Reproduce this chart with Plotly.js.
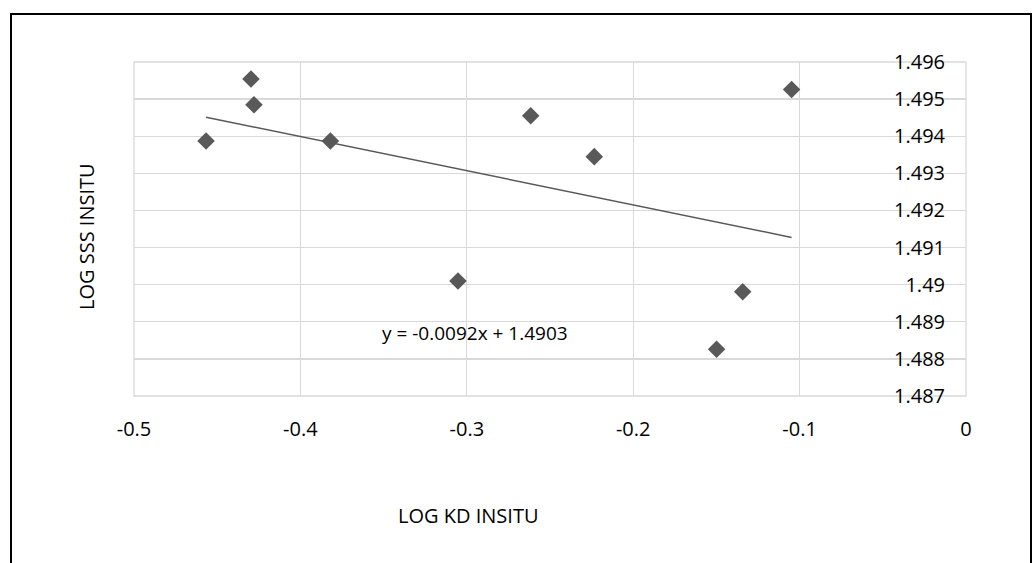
<!DOCTYPE html>
<html>
<head>
<meta charset="utf-8">
<script src="https://cdn.plot.ly/plotly-3.0.1.min.js"></script>
<style>
  html, body { margin: 0; padding: 0; background: #ffffff; }
  #chart { width: 1035px; height: 563px; }
</style>
</head>
<body>
<div id="chart"></div>
<script>
// Data
var logKd  = [-0.4567, -0.4297, -0.4279, -0.3820, -0.3053, -0.2616, -0.2234, -0.1048, -0.1342, -0.1499];
var logSss = [1.49387, 1.49554, 1.49485, 1.49387, 1.49010, 1.49455, 1.49345, 1.49526, 1.48981, 1.48826];

var xTickVals = [-0.5, -0.4, -0.3, -0.2, -0.1, 0];
var xTickText = ['-0.5', '-0.4', '-0.3', '-0.2', '-0.1', '0'];
var yTickVals = [1.487, 1.488, 1.489, 1.49, 1.491, 1.492, 1.493, 1.494, 1.495, 1.496];
var yTickText = ['1.487', '1.488', '1.489', '1.49', '1.491', '1.492', '1.493', '1.494', '1.495', '1.496'];

var xTitle = 'LOG KD INSITU';
var yTitle = 'LOG SSS INSITU';
var equationText = 'y = -0.0092x + 1.4903';

// Linear least-squares trendline (as the spreadsheet does)
function fitLine(xs, ys) {
  var n = xs.length, mx = 0, my = 0;
  for (var i = 0; i < n; i++) { mx += xs[i]; my += ys[i]; }
  mx /= n; my /= n;
  var sxy = 0, sxx = 0;
  for (var j = 0; j < n; j++) { sxy += (xs[j] - mx) * (ys[j] - my); sxx += (xs[j] - mx) * (xs[j] - mx); }
  var slope = sxy / sxx;
  return { slope: slope, intercept: my - slope * mx };
}
var fit = fitLine(logKd, logSss);
var xMin = Math.min.apply(null, logKd), xMax = Math.max.apply(null, logKd);
var trendX = [xMin, xMax];
var trendY = trendX.map(function (v) { return fit.intercept + fit.slope * v; });

var FONT = 'Open Sans, Liberation Sans, sans-serif';
var markColor = '#595959';
var gridColor = '#d9d9d9';

var traces = [
  {
    x: logKd, y: logSss, type: 'scatter', mode: 'markers',
    marker: { symbol: 'diamond', size: 13.5, color: markColor, line: { width: 0 } },
    hoverinfo: 'x+y', showlegend: false
  },
  {
    x: trendX, y: trendY, type: 'scatter', mode: 'lines',
    line: { color: markColor, width: 1.5 },
    hoverinfo: 'skip', showlegend: false
  }
];

var layout = {
  width: 1035, height: 563,
  margin: { l: 134, r: 69, t: 62, b: 167, pad: 0 },
  paper_bgcolor: '#ffffff', plot_bgcolor: '#ffffff',
  font: { family: FONT, size: 20, color: '#000000' },
  showlegend: false,
  xaxis: {
    range: [-0.5, 0], tickmode: 'array', tickvals: xTickVals, ticktext: xTickText,
    showgrid: true, gridcolor: gridColor, gridwidth: 1.3,
    zeroline: false, showline: false, ticks: '',
    ticklabelstandoff: 19,
    tickfont: { family: FONT, size: 20, color: '#000000' }
  },
  yaxis: {
    range: [1.487, 1.496], side: 'left', anchor: 'free', position: (945 - 134) / 832,
    tickmode: 'array', tickvals: yTickVals, ticktext: yTickText,
    showgrid: true, gridcolor: gridColor, gridwidth: 1.3,
    zeroline: false, showline: false, ticks: '',
    tickfont: { family: FONT, size: 20, color: '#000000' }
  },
  shapes: [
    {
      type: 'rect', xref: 'paper', yref: 'paper', x0: 0, x1: 1, y0: 0, y1: 1,
      line: { color: gridColor, width: 1.3 }, fillcolor: 'rgba(0,0,0,0)', layer: 'below'
    },
    {
      type: 'rect', xref: 'paper', yref: 'paper',
      x0: (11 - 134) / 832, x1: (1031 - 134) / 832,
      y0: (396 - 600) / 334, y1: (396 - 14) / 334,
      line: { color: '#000000', width: 2 }, fillcolor: 'rgba(0,0,0,0)', layer: 'above'
    }
  ],
  annotations: [
    {
      text: equationText, x: -0.295, y: 1.4887, xref: 'x', yref: 'y',
      showarrow: false, xanchor: 'center', yanchor: 'middle',
      font: { family: FONT, size: 19, color: '#000000' }
    },
    {
      text: xTitle, xref: 'paper', yref: 'paper',
      x: (468 - 134) / 832, y: (396 - 515) / 334,
      showarrow: false, xanchor: 'center', yanchor: 'middle',
      font: { family: FONT, size: 20, color: '#000000' }
    },
    {
      text: yTitle, xref: 'paper', yref: 'paper',
      x: (86 - 134) / 832, y: (396 - 237) / 334, textangle: -90,
      showarrow: false, xanchor: 'center', yanchor: 'middle',
      font: { family: FONT, size: 20, color: '#000000' }
    }
  ]
};

Plotly.newPlot('chart', traces, layout, { staticPlot: true, displayModeBar: false });
</script>
</body>
</html>
